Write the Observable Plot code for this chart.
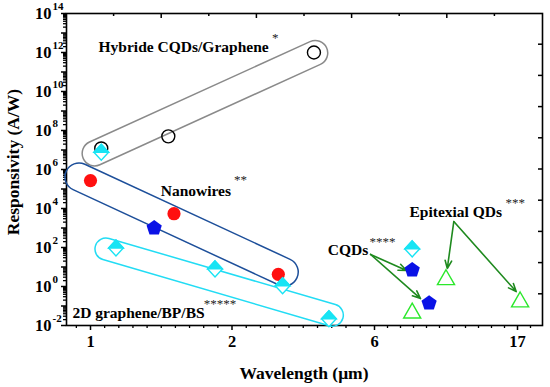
<!DOCTYPE html>
<html><head><meta charset="utf-8">
<script src="https://cdn.jsdelivr.net/npm/d3@7"></script>
<script src="https://cdn.jsdelivr.net/npm/@observablehq/plot@0.6"></script>
<style>body{margin:0;background:#fff} svg{display:block}</style>
</head><body><div id="chart"></div>
<script>
// ---------- data ----------
const xTickValues = [1, 2, 6, 17];
const xMinorTicks = [0.9, 1.1, 1.2, 1.3, 1.4, 1.5, 1.6, 1.7, 1.8, 1.9,
  2.4, 2.8, 3.2, 3.6, 4, 4.4, 4.8, 5.2, 5.6,
  7, 8, 9, 10, 11, 12, 13, 14, 15, 16, 18];
const yLabelExponents = [-2, 0, 2, 4, 6, 8, 10, 12, 14];
const yDecadeExponents = [-2, -1, 0, 1, 2, 3, 4, 5, 6, 7, 8, 9, 10, 11, 12, 13, 14];

const hybridX = [1.076, 1.55, 4.3];
const hybridY = [1.2e7, 5e7, 1e12];
const nanowireX = [1.0, 1.59, 3.30];
const nanowireY = [2.7e5, 5.4e3, 4.2];
const pentagonX = [1.45, 8.9, 10.2];
const pentagonY = [1.0e3, 7, 0.14];
const diamondX = [1.076, 1.18, 1.88, 3.42, 4.72, 8.9];
const diamondY = [7.7e6, 95, 8, 1.1, 0.022, 85];
const triangleX = [8.9, 11.5, 17.2];
const triangleY = [0.048, 2.5, 0.18];

const capsuleNames = ["Hybride", "Nanowires", "2D"];
const capsuleX1 = [1.033, 0.922, 1.113];
const capsuleY1 = [6.3e6, 3.9e5, 79];
const capsuleX2 = [4.35, 3.48, 4.83];
const capsuleY2 = [8.9e11, 5.2, 0.032];

const labelText = ["Hybride CQDs/Graphene", "Nanowires", "2D graphene/BP/BS", "CQDs", "Epitexial QDs"];
const labelX = [1.057, 1.496, 0.872, 4.69, 8.69];
const labelY = [2.0e12, 8.3e4, 0.042, 71, 6300];
const starText = ["*", "**", "*****", "****", "***"];
const starX = [3.12, 2.056, 1.80, 5.86, 16.08];
const starY = [5.9e12, 3.1e5, 0.135, 204, 2.0e4];

const arrowX1 = [5.89, 5.89, 12.1, 12.1];
const arrowY1 = [44, 44, 2150, 2150];
const arrowX2 = [8.46, 9.54, 11.6, 16.9];
const arrowY2 = [6.6, 0.24, 8.4, 0.55];

// ---------- tables ----------
const pts = (xs, ys) => xs.map((x, i) => ({x, y: ys[i]}));
const hybrid = pts(hybridX, hybridY);
const nanowires = pts(nanowireX, nanowireY);
const pentagons = pts(pentagonX, pentagonY);
const diamonds = pts(diamondX, diamondY);
const triangles = pts(triangleX, triangleY);
const labels = labelText.map((t, i) => ({t, x: labelX[i], y: labelY[i]}));
const stars = starText.map((t, i) => ({t, x: starX[i], y: starY[i]}));
const arrows = arrowX1.map((x1, i) => ({x1, y1: arrowY1[i], x2: arrowX2[i], y2: arrowY2[i]}));
const yMinor = [];
for (const e of yDecadeExponents.slice(0, -1)) for (let m = 2; m <= 9; m++) yMinor.push(m * 10 ** e);

// ---------- custom symbols ----------
const R = s => Math.sqrt(s / Math.PI);
const pentagon = {draw(c, s) { const r = R(s); for (let i = 0; i < 5; i++) { const a = -Math.PI/2 + i*2*Math.PI/5; const px = r*Math.cos(a), py = r*Math.sin(a); i ? c.lineTo(px, py) : c.moveTo(px, py);} c.closePath(); }};
const diamond = {draw(c, s) { const r = R(s); c.moveTo(0, -r); c.lineTo(r*0.92, 0); c.lineTo(0, r); c.lineTo(-r*0.92, 0); c.closePath(); }};
const halfDiamond = {draw(c, s) { const r = R(s); c.moveTo(0, -r); c.lineTo(r*0.92, 0); c.lineTo(-r*0.92, 0); c.closePath(); }};
const triangle = {draw(c, s) { const r = R(s); c.moveTo(0, -r); c.lineTo(r*0.95, r*0.65); c.lineTo(-r*0.95, r*0.65); c.closePath(); }};

const W = 550, H = 387, ML = 66, MR = 8, MT = 13, MB = 62;
const serif = "'Liberation Serif', 'Times New Roman', serif";

const plot = Plot.plot({
  width: W, height: H,
  marginLeft: ML, marginRight: MR, marginTop: MT, marginBottom: MB,
  style: {fontFamily: serif, background: "#fff", color: "#000"},
  x: {type: "linear", domain: xTickValues, range: [90, 231.5, 374, 517], axis: null},
  y: {type: "log", domain: [1e-2, 1e14], axis: null},
  marks: [
    Plot.axisX({ticks: xMinorTicks, tickSize: 3, tickFormat: () => "", strokeWidth: 1.3}),
    Plot.axisX({ticks: xTickValues, tickSize: 5, tickPadding: 5, fontSize: 16.5, fontWeight: "bold", tickFormat: d => String(d), strokeWidth: 1.5, label: null}),
    Plot.axisY({ticks: yMinor, tickSize: 3, tickFormat: () => "", strokeWidth: 1.3}),
    Plot.axisY({ticks: yDecadeExponents.map(e => 10 ** e), tickSize: 5, tickFormat: () => "", strokeWidth: 1.5, label: null}),
    Plot.text(yLabelExponents, {y: e => 10 ** e, frameAnchor: "left", text: () => "10", textAnchor: "end", dx: -15, fontSize: 16.5, fontWeight: "bold"}),
    Plot.text(yLabelExponents, {y: e => 10 ** e, frameAnchor: "left", text: e => String(e), textAnchor: "start", dx: -14, dy: -7, fontSize: 11, fontWeight: "bold"}),
    Plot.frame({stroke: "#000", strokeWidth: 1.6}),
    Plot.arrow(arrows, {x1: "x1", y1: "y1", x2: "x2", y2: "y2", stroke: "#1f8a1f", strokeWidth: 1.6, headLength: 8, headAngle: 45}),
    Plot.dot(hybrid, {x: "x", y: "y", r: 6.5, stroke: "#000", strokeWidth: 1.4, fill: "none"}),
    Plot.dot(nanowires, {x: "x", y: "y", r: 6.6, fill: "#ff1010", stroke: "none"}),
    Plot.dot(pentagons, {x: "x", y: "y", r: 8, symbol: pentagon, fill: "#0a12e6", stroke: "none"}),
    Plot.dot(diamonds, {x: "x", y: "y", r: 8, symbol: diamond, fill: "#fff", stroke: "#18e4f4", strokeWidth: 1.4}),
    Plot.dot(diamonds, {x: "x", y: "y", r: 8, symbol: halfDiamond, fill: "#18e4f4", stroke: "#18e4f4", strokeWidth: 1.4}),
    Plot.dot(triangles, {x: "x", y: "y", r: 9, symbol: triangle, fill: "none", stroke: "#2be82b", strokeWidth: 1.4}),
    Plot.text(labels, {x: "x", y: "y", text: "t", textAnchor: "start", fontSize: 15.5, fontWeight: "bold"}),
    Plot.text(stars, {x: "x", y: "y", text: "t", textAnchor: "start", fontSize: 13, fill: "#222"})
  ]
});

const svg = d3.select(plot);
const sx = plot.scale("x").apply, sy = plot.scale("y").apply;

// capsules (rounded outlines) placed through the plot's scales
const capColors = ["#8a8a8a", "#1d4f9a", "#22dcf4"];
const capRadius = [12.5, 14, 11];
const capG = svg.insert("g", '[aria-label="arrow"]').attr("fill", "none").attr("stroke-width", 1.5);
capsuleNames.forEach((name, i) => {
  const ax = sx(capsuleX1[i]), ay = sy(capsuleY1[i]), bx = sx(capsuleX2[i]), by = sy(capsuleY2[i]);
  const len = Math.hypot(bx - ax, by - ay), ux = (bx - ax) / len, uy = (by - ay) / len;
  const nx = -uy, ny = ux, r = capRadius[i];
  const d = `M${ax + nx*r},${ay + ny*r}L${bx + nx*r},${by + ny*r}A${r},${r} 0 0 0 ${bx - nx*r},${by - ny*r}L${ax - nx*r},${ay - ny*r}A${r},${r} 0 0 0 ${ax + nx*r},${ay + ny*r}Z`;
  capG.append("path").attr("d", d).attr("stroke", capColors[i]);
});

// frame decoration ticks on top and right edges
const deco = svg.append("g").attr("stroke", "#000").attr("stroke-width", 1.5);
const fw = W - ML - MR, fh = H - MT - MB;
for (let k = 1; k < 10; k++) {
  const x = ML + k * fw / 10;
  deco.append("line").attr("x1", x).attr("x2", x).attr("y1", MT).attr("y2", MT + (k % 2 ? 3 : 5));
  const y = MT + k * fh / 10;
  deco.append("line").attr("x1", W - MR).attr("x2", W - MR - 4).attr("y1", y).attr("y2", y);
}

// axis titles
svg.append("text").attr("x", 304).attr("y", 379).attr("text-anchor", "middle")
  .attr("font-size", 17.5).attr("font-weight", "bold").attr("font-family", serif).text("Wavelength (μm)");
svg.append("text").attr("transform", "translate(19,162) rotate(-90)").attr("text-anchor", "middle")
  .attr("font-size", 17.5).attr("font-weight", "bold").attr("font-family", serif).text("Responsivity (A/W)");

document.getElementById("chart").appendChild(plot);
</script>
</body></html>
